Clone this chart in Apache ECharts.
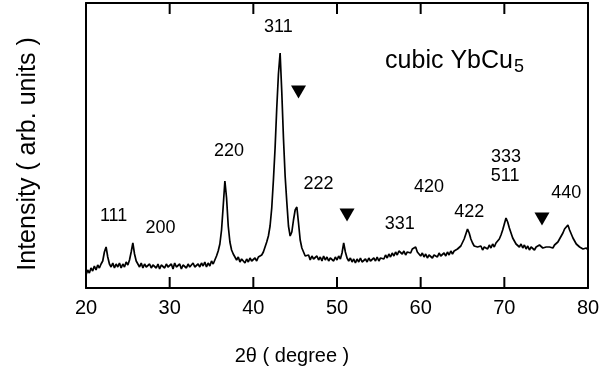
<!DOCTYPE html>
<html>
<head>
<meta charset="utf-8">
<script src="https://cdn.jsdelivr.net/npm/echarts@6/dist/echarts.min.js"></script>
<style>
  html, body { margin: 0; padding: 0; background: #fff; }
  #chart { width: 615px; height: 372px; }
</style>
</head>
<body>
<div id="chart"></div>
<script>
// XRD pattern, 2θ from 20 to 80 in steps of 0.2 degree
const twoThetaStart = 20
const twoThetaStep = 0.2
const intensity = [
  13, 18, 15, 20, 17, 22, 18, 23, 20, 24,
  27, 36, 41, 31, 24, 21, 25, 20, 24, 21,
  25, 20, 24, 21, 26, 23, 28, 36, 45, 34,
  27, 24, 21, 25, 20, 24, 21, 19, 24, 20,
  23, 25, 20, 24, 19, 23, 25, 20, 24, 21,
  20, 24, 19, 25, 21, 20, 24, 19, 23, 25,
  20, 24, 21, 19, 25, 21, 20, 24, 21, 25,
  22, 26, 21, 25, 22, 27, 24, 28, 32, 37,
  44, 58, 82, 107, 90, 62, 46, 38, 34, 31,
  28, 31, 26, 29, 28, 25, 29, 26, 30, 27,
  26, 30, 27, 31, 30, 33, 36, 41, 46, 52,
  62, 80, 108, 140, 180, 214, 235, 196, 150, 112,
  86, 62, 52, 56, 68, 78, 81, 65, 48, 40,
  36, 32, 30, 33, 28, 32, 29, 27, 32, 28,
  31, 27, 32, 28, 31, 27, 30, 32, 27, 31,
  28, 32, 29, 35, 45, 36, 30, 27, 30, 26,
  29, 25, 29, 26, 30, 26, 25, 29, 26, 30,
  27, 28, 30, 27, 31, 27, 30, 32, 29, 33,
  30, 34, 31, 35, 32, 36, 33, 37, 36, 34,
  37, 33, 36, 38, 35, 39, 40, 41, 36, 34,
  32, 35, 31, 34, 30, 33, 34, 30, 33, 32,
  31, 35, 32, 31, 35, 32, 36, 33, 37, 34,
  37, 36, 39, 40, 42, 44, 49, 54, 59, 55,
  49, 45, 42, 42, 41, 39, 42, 38, 41, 40,
  39, 43, 40, 44, 41, 45, 46, 49, 53, 58,
  64, 70, 66, 60, 55, 50, 47, 44, 45, 41,
  44, 40, 43, 39, 42, 38, 41, 42, 38, 41,
  40, 43, 45, 40, 38, 41, 40, 41, 43, 40,
  43, 44, 46, 49, 52, 55, 59, 61, 63, 58,
  54, 50, 47, 44, 44, 41, 42, 39, 38, 40,
  38
]

// Miller index labels (text, 2θ, intensity of the label centre)
const peakLabels = ['111', '200', '220', '311', '222', '331', '420', '422', '333', '511', '440']
const peakLabelX = [23.3, 28.9, 37.1, 43.0, 47.8, 57.5, 61.0, 65.8, 70.2, 70.1, 77.4]
const peakLabelY = [72, 60, 137, 261, 104, 64, 101, 76, 131, 112, 95]

// impurity markers (▼)
const markerX = [45.4, 51.2, 74.5]
const markerY = [196, 73, 69]

const xTicks = [20, 30, 40, 50, 60, 70, 80]
const yMin = 0
const yMax = 285

const chart = echarts.init(document.getElementById('chart'))
const font = '"Liberation Sans", Arial, Helvetica, sans-serif'

const lineData = intensity.map((v, i) => [+(twoThetaStart + i * twoThetaStep).toFixed(1), v])

const frameLine = { show: true, onZero: false, lineStyle: { color: '#000', width: 2 } }

// inward ticks on the bottom and top edges, placed through the axis scale
function renderTick(params, api) {
  const v = api.value(0)
  const b = api.coord([v, yMin])
  const t = api.coord([v, yMax])
  const style = { stroke: '#000', lineWidth: 2 }
  return {
    type: 'group',
    children: [
      { type: 'line', shape: { x1: b[0], y1: b[1], x2: b[0], y2: b[1] - 11 }, style },
      { type: 'line', shape: { x1: t[0], y1: t[1], x2: t[0], y2: t[1] + 11 }, style },
    ],
  }
}

chart.setOption({
  animation: false,
  backgroundColor: '#fff',
  grid: { left: 86, right: 27, top: 3, bottom: 84 },
  xAxis: [
    {
      type: 'value',
      min: xTicks[0],
      max: xTicks[xTicks.length - 1],
      interval: 10,
      position: 'bottom',
      axisLine: frameLine,
      axisTick: { show: false },
      splitLine: { show: false },
      axisLabel: { color: '#000', fontSize: 20, fontFamily: font, margin: 10 },
    },
    {
      type: 'value',
      min: xTicks[0],
      max: xTicks[xTicks.length - 1],
      interval: 10,
      position: 'top',
      axisLine: frameLine,
      axisTick: { show: false },
      splitLine: { show: false },
      axisLabel: { show: false },
    },
  ],
  yAxis: [
    {
      type: 'value', min: yMin, max: yMax, position: 'left',
      axisLine: frameLine,
      splitLine: { show: false },
      axisTick: { show: false }, axisLabel: { show: false },
    },
    {
      type: 'value', min: yMin, max: yMax, position: 'right',
      axisLine: frameLine,
      splitLine: { show: false },
      axisTick: { show: false }, axisLabel: { show: false },
    },
  ],
  series: [
    {
      type: 'line',
      data: lineData,
      showSymbol: false,
      lineStyle: { color: '#000', width: 1.7 },
      silent: true,
    },
    {
      type: 'custom',
      data: xTicks.slice(1, -1).map(v => [v, yMin]),
      encode: { x: 0, y: 1 },
      renderItem: renderTick,
      silent: true,
      z: 5,
    },
    {
      type: 'scatter',
      xAxisIndex: 1,
      yAxisIndex: 1,
      data: markerX.map((x, i) => [x, markerY[i]]),
      symbol: 'triangle',
      symbolRotate: 180,
      symbolSize: [15, 13],
      itemStyle: { color: '#000', opacity: 1 },
      silent: true,
    },
    {
      type: 'scatter',
      data: peakLabels.map((t, i) => ({ value: [peakLabelX[i], peakLabelY[i]], name: t })),
      symbolSize: 1,
      itemStyle: { color: 'transparent', opacity: 1 },
      label: {
        show: true,
        position: 'inside',
        formatter: p => p.name,
        color: '#000',
        fontSize: 18,
        fontFamily: font,
      },
      silent: true,
    },
  ],
  graphic: [
    {
      type: 'text',
      x: 449, y: 61,
      style: { text: 'cubic YbCu', fill: '#000', font: '25px ' + font, align: 'center', verticalAlign: 'middle' },
    },
    {
      type: 'text',
      x: 514, y: 67,
      style: { text: '5', fill: '#000', font: '18px ' + font, align: 'left', verticalAlign: 'middle' },
    },
    {
      type: 'text',
      x: 292, y: 356,
      style: { text: '2θ ( degree )', fill: '#000', font: '20px ' + font, align: 'center', verticalAlign: 'middle' },
    },
    {
      type: 'text',
      x: 28, y: 154,
      rotation: Math.PI / 2,
      style: { text: 'Intensity ( arb. units )', fill: '#000', font: '25px ' + font, align: 'center', verticalAlign: 'middle' },
    },
  ],
})
</script>
</body>
</html>
